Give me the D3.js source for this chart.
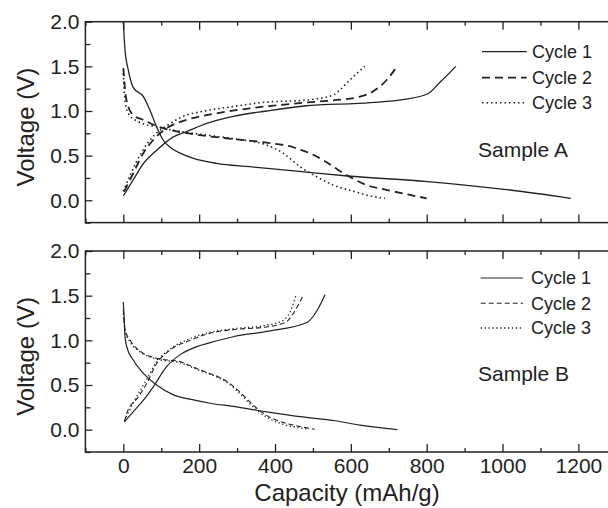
<!DOCTYPE html>
<html>
<head>
<meta charset="utf-8">
<script src="https://d3js.org/d3.v7.min.js"></script>
<style>
  body { margin: 0; background: #fff; }
  text { font-family: "Liberation Sans", Arial, sans-serif; fill: #222; }
</style>
</head>
<body>
<div id="vis"></div>
<script>
  // capacity (mAh/g), voltage (V) pairs
  const legendLabels = ['Cycle 1', 'Cycle 2', 'Cycle 3']
  const sampleLabels = ['Sample A', 'Sample B']
  const xTicks = [0, 200, 400, 600, 800, 1000, 1200]
  const yTicks = [0.0, 0.5, 1.0, 1.5, 2.0]

  // Sample A
  const a1Discharge = [[0,2.0],[4.5,1.68],[13,1.46],[26,1.265],[53,1.16],[70,1.01],[88,0.82],[105,0.675],[128,0.58],[154,0.52],[185,0.47],[246,0.414],[334,0.376],[422,0.34],[477,0.318],[591,0.272],[802,0.21],[1004,0.123],[1180,0.022]]
  const a1Charge = [[0,0.048],[22,0.2],[53,0.41],[88,0.56],[132,0.71],[167,0.77],[220,0.86],[290,0.94],[378,1.0],[477,1.056],[652,1.093],[740,1.13],[802,1.19],[837,1.33],[877,1.5]]
  const a2Discharge = [[0,1.48],[4.5,1.235],[13,1.05],[26,0.955],[53,0.9],[88,0.83],[132,0.78],[202,0.73],[290,0.686],[378,0.645],[448,0.594],[492,0.526],[527,0.45],[563,0.35],[598,0.26],[642,0.17],[695,0.115],[756,0.06],[800,0.022]]
  const a2Charge = [[2,0.097],[26,0.3],[53,0.53],[79,0.675],[114,0.806],[167,0.9],[246,0.974],[334,1.03],[477,1.093],[554,1.12],[624,1.16],[659,1.22],[695,1.35],[722,1.5]]
  const a3Discharge = [[0,1.42],[5,1.1],[15,0.96],[40,0.88],[90,0.82],[150,0.77],[202,0.74],[290,0.69],[378,0.618],[422,0.526],[466,0.376],[510,0.264],[554,0.17],[607,0.1],[650,0.05],[690,0.022]]
  const a3Charge = [[0,0.1],[20,0.3],[50,0.55],[80,0.72],[120,0.85],[167,0.955],[202,0.99],[290,1.05],[378,1.1],[477,1.12],[554,1.18],[571,1.235],[598,1.35],[637,1.5]]

  // Sample B
  const b1Discharge = [[0,1.43],[2,1.27],[4.5,1.04],[9,0.93],[26,0.78],[53,0.63],[88,0.5],[132,0.39],[185,0.333],[229,0.296],[290,0.26],[378,0.2],[466,0.146],[560,0.1],[624,0.05],[723,0.0]]
  const b1Charge = [[3,0.09],[26,0.2],[53,0.33],[79,0.48],[114,0.705],[150,0.84],[194,0.93],[229,0.974],[290,1.04],[378,1.1],[484,1.2],[509,1.32],[532,1.51]]
  const b2Discharge = [[0,1.35],[4.5,1.12],[18,1.0],[44,0.88],[88,0.8],[150,0.76],[202,0.67],[246,0.6],[273,0.54],[308,0.42],[334,0.31],[352,0.24],[378,0.16],[422,0.08],[466,0.035],[505,0.005]]
  const b2Charge = [[3,0.09],[9,0.18],[40,0.37],[62,0.52],[88,0.74],[123,0.89],[176,1.0],[229,1.08],[290,1.12],[378,1.15],[431,1.21],[448,1.3],[475,1.51]]
  const b3Discharge = [[0,1.3],[5,1.1],[18,0.98],[44,0.87],[88,0.79],[150,0.75],[202,0.66],[246,0.59],[273,0.53],[308,0.4],[334,0.29],[352,0.22],[378,0.14],[422,0.06],[466,0.02],[490,0.005]]
  const b3Charge = [[3,0.1],[26,0.3],[60,0.55],[88,0.76],[123,0.9],[176,1.02],[229,1.09],[290,1.13],[378,1.17],[420,1.22],[440,1.32],[455,1.5]]

  var svg = d3.select('#vis')
    .append('svg')
    .attr('width', 608)
    .attr('height', 508)

  var ink = '#222'
  var x = d3.scaleLinear().domain([-100, 1300]).range([85.4, 616.3])

  var panels = [
    { top: 21.7, bottom: 222.6, label: sampleLabels[0], showX: false,
      curves: [[a1Discharge, a1Charge], [a2Discharge, a2Charge], [a3Discharge, a3Charge]],
      styles: [
        { dash: null, width: 1.3 },
        { dash: '8,5', width: 1.8 },
        { dash: '1.5,3', width: 1.6 }
      ],
      legendY: [51.7, 77.7, 102.7], legendX: [482, 526.7, 532], sampleY: 149 },
    { top: 251, bottom: 452, label: sampleLabels[1], showX: true,
      curves: [[b1Discharge, b1Charge], [b2Discharge, b2Charge], [b3Discharge, b3Charge]],
      styles: [
        { dash: null, width: 1.2 },
        { dash: '5,3', width: 1.1 },
        { dash: '1.3,2.6', width: 1.3 }
      ],
      legendY: [278, 303.3, 328], legendX: [480.7, 523, 531], sampleY: 373.3 }
  ]

  panels.forEach(function (p) {
    var y = d3.scaleLinear().domain([-0.25, 2.0]).range([p.bottom, p.top])
    var g = svg.append('g')

    // frame
    g.append('rect')
      .attr('x', x(-100)).attr('y', p.top)
      .attr('width', x(1300) - x(-100)).attr('height', p.bottom - p.top)
      .attr('fill', 'none').attr('stroke', ink).attr('stroke-width', 1.5)

    // minor ticks
    var xMinor = d3.range(-100, 1301, 100).filter(function (d) { return d % 200 !== 0 })
    var yMinor = [-0.25, 0.25, 0.75, 1.25, 1.75]

    var bottomAxis = d3.axisBottom(x).tickValues(xTicks).tickSizeInner(-8).tickSizeOuter(0).tickPadding(6).tickFormat(d3.format('d'))
    if (!p.showX) bottomAxis.tickFormat('')
    g.append('g').attr('transform', 'translate(0,' + p.bottom + ')').call(bottomAxis)
    g.append('g').attr('transform', 'translate(0,' + p.bottom + ')')
      .call(d3.axisBottom(x).tickValues(xMinor).tickSizeInner(-4).tickSizeOuter(0).tickFormat(''))
    g.append('g').attr('transform', 'translate(0,' + p.top + ')')
      .call(d3.axisTop(x).tickValues(xTicks).tickSizeInner(-8).tickSizeOuter(0).tickFormat(''))
    g.append('g').attr('transform', 'translate(0,' + p.top + ')')
      .call(d3.axisTop(x).tickValues(xMinor).tickSizeInner(-4).tickSizeOuter(0).tickFormat(''))

    g.append('g').attr('transform', 'translate(' + x(-100) + ',0)')
      .call(d3.axisLeft(y).tickValues(yTicks).tickSizeInner(-7).tickSizeOuter(0).tickPadding(6).tickFormat(d3.format('.1f')))
    g.append('g').attr('transform', 'translate(' + x(-100) + ',0)')
      .call(d3.axisLeft(y).tickValues(yMinor).tickSizeInner(-5).tickSizeOuter(0).tickFormat(''))

    g.selectAll('.domain').remove()
    g.selectAll('.tick line').attr('stroke', ink).attr('stroke-width', 1.3)
    g.selectAll('.tick text').style('font-size', '21px').attr('fill', ink)

    // y title
    g.append('text')
      .attr('transform', 'translate(25,' + ((p.top + p.bottom) / 2 + 5) + ')rotate(-90)')
      .attr('text-anchor', 'middle')
      .attr('dominant-baseline', 'central')
      .style('font-size', '24px')
      .text('Voltage (V)')

    // curves
    var line = d3.line()
      .x(function (d) { return x(d[0]) })
      .y(function (d) { return y(d[1]) })
      .curve(d3.curveMonotoneX)

    p.curves.forEach(function (pair, i) {
      pair.forEach(function (c) {
        g.append('path')
          .attr('d', line(c))
          .attr('fill', 'none')
          .attr('stroke', ink)
          .attr('stroke-width', p.styles[i].width)
          .attr('stroke-dasharray', p.styles[i].dash)
      })
    })

    // legend
    legendLabels.forEach(function (lab, i) {
      g.append('line')
        .attr('x1', p.legendX[0]).attr('x2', p.legendX[1])
        .attr('y1', p.legendY[i]).attr('y2', p.legendY[i])
        .attr('stroke', ink)
        .attr('stroke-width', p.styles[i].width)
        .attr('stroke-dasharray', p.styles[i].dash)
      g.append('text')
        .attr('x', p.legendX[2]).attr('y', p.legendY[i] + 6.4)
        .style('font-size', '18px')
        .text(lab)
    })

    g.append('text')
      .attr('x', 478).attr('y', p.sampleY + 7.5)
      .style('font-size', '21px')
      .text(p.label)
  })

  svg.append('text')
    .attr('x', 347).attr('y', 501)
    .attr('text-anchor', 'middle')
    .style('font-size', '24px')
    .text('Capacity (mAh/g)')
</script>
</body>
</html>
